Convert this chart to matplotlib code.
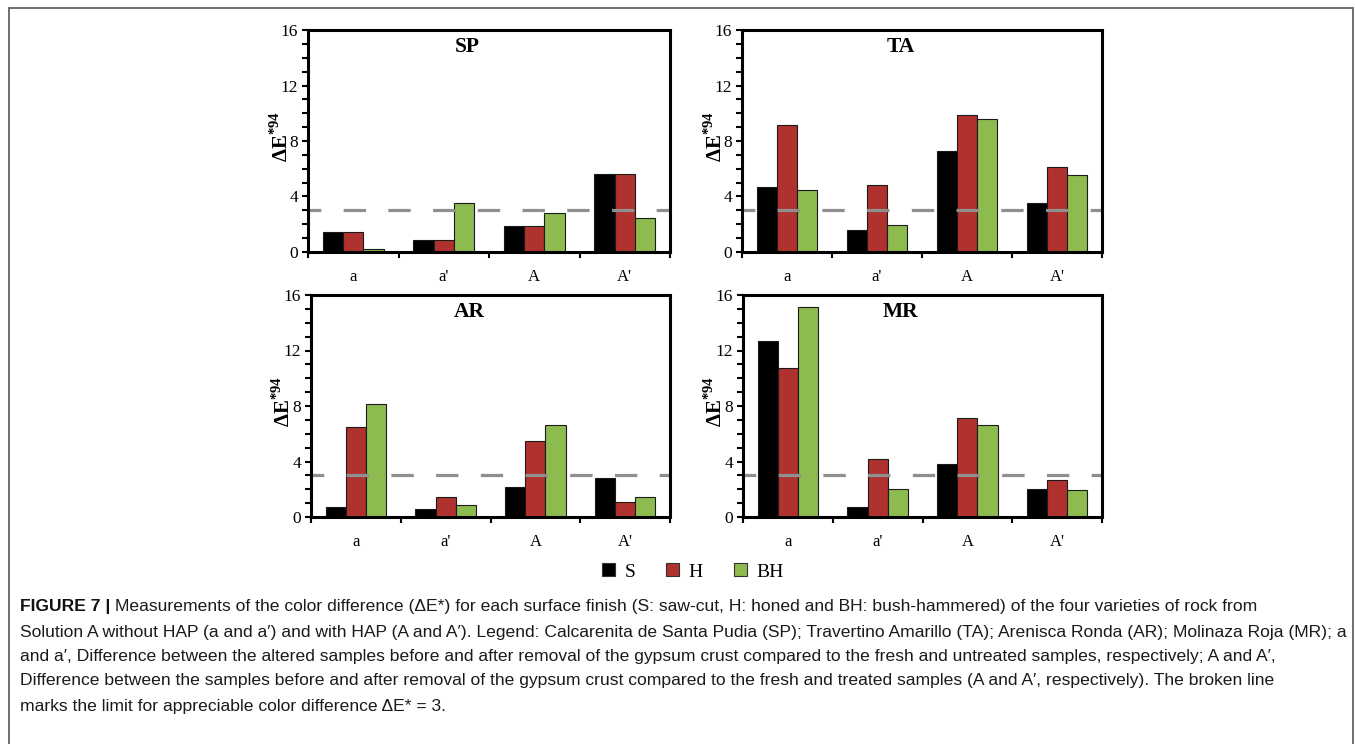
import matplotlib
matplotlib.use("Agg")
import matplotlib.pyplot as plt
import numpy as np
from matplotlib.patches import Patch, Rectangle
from matplotlib.ticker import MultipleLocator, FixedLocator, NullFormatter

plt.rcParams['mathtext.fontset'] = 'custom'
plt.rcParams['mathtext.rm'] = 'Liberation Serif'
plt.rcParams['mathtext.bf'] = 'Liberation Serif:bold'

# ---------------- data ----------------
categories = ["a", "a'", "A", "A'"]
series_names = ["S", "H", "BH"]
panel_names = ["SP", "TA", "AR", "MR"]

sp_S = [1.45, 0.85, 1.85, 5.6]
sp_H = [1.45, 0.85, 1.85, 5.6]
sp_BH = [0.2, 3.5, 2.8, 2.45]

ta_S = [4.65, 1.6, 7.25, 3.5]
ta_H = [9.15, 4.85, 9.9, 6.15]
ta_BH = [4.5, 1.95, 9.55, 5.55]

ar_S = [0.75, 0.55, 2.15, 2.8]
ar_H = [6.5, 1.45, 5.5, 1.1]
ar_BH = [8.15, 0.9, 6.6, 1.45]

mr_S = [12.65, 0.75, 3.8, 2.0]
mr_H = [10.75, 4.2, 7.15, 2.7]
mr_BH = [15.15, 2.0, 6.6, 1.95]

threshold = 3
yticks = [0, 4, 8, 12, 16]

caption_bold = "FIGURE 7 |"
caption_lines = [
    "Measurements of the color difference (\u0394E*) for each surface finish (S: saw-cut, H: honed and BH: bush-hammered) of the four varieties of rock from",
    "Solution A without HAP (a and a\u2032) and with HAP (A and A\u2032). Legend: Calcarenita de Santa Pudia (SP); Travertino Amarillo (TA); Arenisca Ronda (AR); Molinaza Roja (MR); a",
    "and a\u2032, Difference between the altered samples before and after removal of the gypsum crust compared to the fresh and untreated samples, respectively; A and A\u2032,",
    "Difference between the samples before and after removal of the gypsum crust compared to the fresh and treated samples (A and A\u2032, respectively). The broken line",
    "marks the limit for appreciable color difference \u0394E* = 3.",
]

panels = {
    "SP": [sp_S, sp_H, sp_BH],
    "TA": [ta_S, ta_H, ta_BH],
    "AR": [ar_S, ar_H, ar_BH],
    "MR": [mr_S, mr_H, mr_BH],
}

colors = ["#000000", "#B0322E", "#8DBB4F"]

# ---------------- layout ----------------
W, H = 1355, 744
fig = plt.figure(figsize=(W / 100, H / 100), dpi=100)
fig.patch.set_facecolor("white")

def rect(l, r, t, b):
    return [l / W, 1 - b / H, (r - l) / W, (b - t) / H]

boxes = {
    "SP": (308, 670, 30, 252),
    "TA": (742, 1102, 30, 252),
    "AR": (311, 670, 295, 517),
    "MR": (743, 1102, 295, 517),
}

serif = "Liberation Serif"
bw = 0.225
x = np.arange(len(categories))

for name in panel_names:
    l, r, t, b = boxes[name]
    ax = fig.add_axes(rect(l, r, t, b))
    vals = panels[name]
    for i, (s, c) in enumerate(zip(vals, colors)):
        ax.bar(x + (i - 1) * bw, s, width=bw, color=c, edgecolor="#1a1a1a",
               linewidth=0.8, zorder=2)
    ax.axhline(threshold, color="#8f8f8f", linewidth=2.3, linestyle=(3, (7, 7)),
               zorder=3)
    ax.set_xlim(-0.5, len(categories) - 0.5)
    ax.set_ylim(0, 16)
    ax.yaxis.set_major_locator(FixedLocator(yticks))
    ax.yaxis.set_minor_locator(MultipleLocator(1))
    ax.set_xticks(x)
    ax.set_xticklabels(categories, fontfamily=serif, fontsize=12)
    ax.xaxis.set_minor_locator(FixedLocator(np.arange(-0.5, len(categories), 1.0)))
    ax.xaxis.set_minor_formatter(NullFormatter())
    ax.tick_params(axis="x", which="major", length=0, pad=12)
    ax.tick_params(axis="x", which="minor", length=4, width=1.5, direction="out")
    ax.tick_params(axis="y", which="both", length=4, width=1.5, direction="out",
                   pad=3)
    for lab in ax.get_yticklabels():
        lab.set_fontfamily(serif)
        lab.set_fontsize(12.5)
    for sp in ax.spines.values():
        sp.set_linewidth(2.2)
        sp.set_zorder(4)
    ax.text(0.44, 0.925, name, transform=ax.transAxes, ha="center", va="center",
            fontfamily=serif, fontweight="bold", fontsize=15.5)
    fig.text((l - 28) / W, 1 - ((t + b) / 2 - 4) / H, r"$\mathbf{\Delta E}^{\mathbf{*94}}$",
             rotation=90, ha="center", va="center", fontsize=15)

# legend
handles = [Patch(facecolor=c, edgecolor="#333333", linewidth=0.8) for c in colors]
fig.legend(handles, series_names, loc="center", bbox_to_anchor=(693 / W, 1 - 572 / H),
           ncol=3, frameon=False, prop={"family": serif, "size": 14},
           handlelength=0.65, handleheight=0.65, handletextpad=0.5, columnspacing=1.6)

# outer border
fig.patches.append(Rectangle((9 / W, -0.01), (1353 - 9) / W, 1 - 8 / H + 0.01,
                             transform=fig.transFigure, fill=False,
                             edgecolor="#555555", linewidth=1.2))

# caption
cap_font = "Liberation Sans"
cap_size = 12.6
line_y = [606, 632, 656, 681, 706]
fig.canvas.draw()
renderer = fig.canvas.get_renderer()
tb = fig.text(20 / W, 1 - line_y[0] / H, caption_bold, ha="left", va="center",
              fontfamily=cap_font, fontweight="bold", fontsize=cap_size, color="#111111")
bb = tb.get_window_extent(renderer=renderer)
fig.text((bb.x1 + 5) / W, 1 - line_y[0] / H, caption_lines[0], ha="left", va="center",
         fontfamily=cap_font, fontsize=cap_size, color="#1a1a1a")
for yy, line in zip(line_y[1:], caption_lines[1:]):
    fig.text(20 / W, 1 - yy / H, line, ha="left", va="center",
             fontfamily=cap_font, fontsize=cap_size, color="#1a1a1a")

fig.savefig("out.png", dpi=100)
